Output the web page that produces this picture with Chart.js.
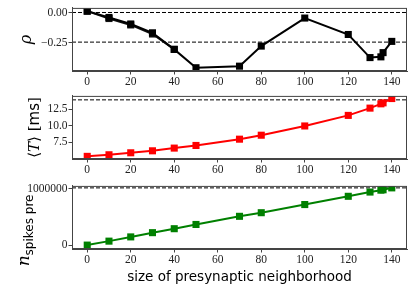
<!DOCTYPE html>
<html>
<head>
    <title>Presynaptic neighborhood</title>
    <script src="https://cdn.jsdelivr.net/npm/chart.js"></script>
    <style>
        body { margin: 0; background: #fff; }
        .panel { position: absolute; left: 0; }
    </style>
</head>
<body>
    <canvas id="rhoChart" class="panel" width="415" height="90" style="top:0px"></canvas>
    <canvas id="tChart" class="panel" width="415" height="92" style="top:88px"></canvas>
    <canvas id="nChart" class="panel" width="415" height="113" style="top:178px"></canvas>

    <script>
    // neighborhood sizes
    const sizes = [0, 10, 20, 30, 40, 50, 70, 80, 100, 120, 130, 135, 136, 140];
    const rho = [0.011, -0.041, -0.095, -0.168, -0.305, -0.457, -0.444, -0.278, -0.046, -0.182, -0.373, -0.367, -0.332, -0.239];
    const rhoEarly = [0.011, -0.05, -0.103, -0.178, -0.305];
    const meanT = [5.4, 5.64, 5.94, 6.24, 6.65, 7.05, 8.0, 8.6, 10.0, 11.6, 12.7, 13.35, 13.5, 14.15];
    const nSpikes = [5000, 75000, 150000, 225000, 295000, 370000, 514000, 578000, 722000, 868000, 943000, 977000, 983000, 1017000];

    const rhoRefs = [0, -0.245];
    const tRef = 13.95;
    const nRef = 1017000;

    const xTicks = [0, 20, 40, 60, 80, 100, 120, 140];
    const rhoTicks = [-0.25, 0];
    const rhoTickLabels = ['\u22120.25', '0.00'];
    const tTicks = [7.5, 10, 12.5];
    const tTickLabels = ['7.5', '10.0', '12.5'];
    const nTicks = [0, 1000000];
    const nTickLabels = ['0', '1000000'];

    const X_MIN = -7, X_MAX = 147;
    const serif = '"Liberation Serif", "DejaVu Serif", serif';
    const sans = '"DejaVu Sans", sans-serif';

    const boxPlugin = {
        id: 'box',
        afterDraw(chart) {
            const a = chart.chartArea, ctx = chart.ctx;
            ctx.save();
            ctx.strokeStyle = '#444';
            ctx.lineWidth = 1;
            ctx.strokeRect(a.left + 0.5, a.top + 0.5, a.right - a.left - 1, a.bottom - a.top - 1);
            ctx.restore();
        }
    };

    // rotated y label, with optional subscript
    const yLabelPlugin = {
        id: 'ylabel',
        afterDraw(chart, args, opts) {
            if (!opts.parts) return;
            const ctx = chart.ctx, a = chart.chartArea;
            ctx.save();
            ctx.translate(opts.x, (a.top + a.bottom) / 2 + (opts.dy || 0));
            ctx.rotate(-Math.PI / 2);
            ctx.fillStyle = '#000';
            ctx.textBaseline = 'middle';
            let total = 0;
            opts.parts.forEach(p => { ctx.font = p.font; total += ctx.measureText(p.text).width; });
            let pos = -total / 2;
            opts.parts.forEach(p => {
                ctx.font = p.font;
                ctx.fillText(p.text, pos, p.dy || 0);
                pos += ctx.measureText(p.text).width;
            });
            ctx.restore();
        }
    };

    function refLine(y) {
        return {
            data: [{ x: X_MIN, y: y }, { x: X_MAX, y: y }],
            borderColor: '#000', borderWidth: 1, borderDash: [4, 2],
            pointRadius: 0, order: 5
        };
    }

    function series(values, color, xs) {
        return {
            data: values.map((v, i) => ({ x: (xs || sizes)[i], y: v })),
            borderColor: color, backgroundColor: color,
            borderWidth: 2, pointStyle: 'rect', pointRadius: 5,
            pointBorderWidth: 0, order: 1
        };
    }

    function makeChart(id, datasets, yMin, yMax, yTicks, yLabels, xHeight, xTitle, ylabelOpts) {
        return new Chart(document.getElementById(id), {
            type: 'line',
            data: { datasets: datasets },
            plugins: [boxPlugin, yLabelPlugin],
            options: {
                responsive: false,
                animation: false,
                layout: { padding: { top: 7, right: 8, left: 0, bottom: 0 } },
                plugins: { legend: { display: false }, tooltip: { enabled: false }, ylabel: ylabelOpts },
                scales: {
                    x: {
                        type: 'linear', min: X_MIN, max: X_MAX,
                        afterBuildTicks: s => { s.ticks = xTicks.map(v => ({ value: v })); },
                        afterFit: s => { s.height = xHeight; },
                        grid: { drawOnChartArea: false, tickLength: 3.5, color: '#444' },
                        border: { color: '#444' },
                        ticks: { color: '#222', font: { family: serif, size: 11.5 }, padding: 1, maxRotation: 0 },
                        title: { display: !!xTitle, text: xTitle || '', color: '#000', font: { family: sans, size: 13.5 }, padding: { top: 0, bottom: 5 } }
                    },
                    y: {
                        min: yMin, max: yMax,
                        afterBuildTicks: s => { s.ticks = yTicks.map(v => ({ value: v })); },
                        afterFit: s => { s.width = 72; },
                        grid: { drawOnChartArea: false, tickLength: 3.5, color: '#444' },
                        border: { color: '#444' },
                        ticks: {
                            color: '#222', font: { family: serif, size: 11.5 }, padding: 1,
                            callback: v => yLabels[yTicks.indexOf(v)]
                        }
                    }
                }
            }
        });
    }

    makeChart('rhoChart',
        [series(rho, '#000'), series(rhoEarly, '#111', sizes.slice(0, 5)), refLine(rhoRefs[0]), refLine(rhoRefs[1])],
        -0.484, 0.038, rhoTicks, rhoTickLabels, 19, null,
        { x: 27, dy: 0, parts: [{ text: '\u03c1', font: 'italic 16px "DejaVu Serif", serif' }] });

    makeChart('tChart',
        [series(meanT, '#ff0000'), refLine(tRef)],
        5.0, 14.55, tTicks, tTickLabels, 21, null,
        { x: 35, dy: 0, parts: [{ text: '\u27e8', font: '15px "DejaVu Serif", serif' }, { text: 'T', font: 'italic 15px "DejaVu Serif", serif' }, { text: '\u27e9 [', font: '15px "DejaVu Serif", serif' }, { text: 'ms', font: '15px ' + sans }, { text: ']', font: '15px "DejaVu Serif", serif' }] });

    makeChart('nChart',
        [series(nSpikes, '#008000'), refLine(nRef)],
        -64000, 1052000, nTicks, nTickLabels, 42, 'size of presynaptic neighborhood',
        { x: 25, dy: 13, parts: [{ text: 'n', font: 'italic 17px "DejaVu Serif", serif' }, { text: 'spikes pre', font: '12px ' + sans, dy: 5 }] });
    </script>
</body>
</html>
